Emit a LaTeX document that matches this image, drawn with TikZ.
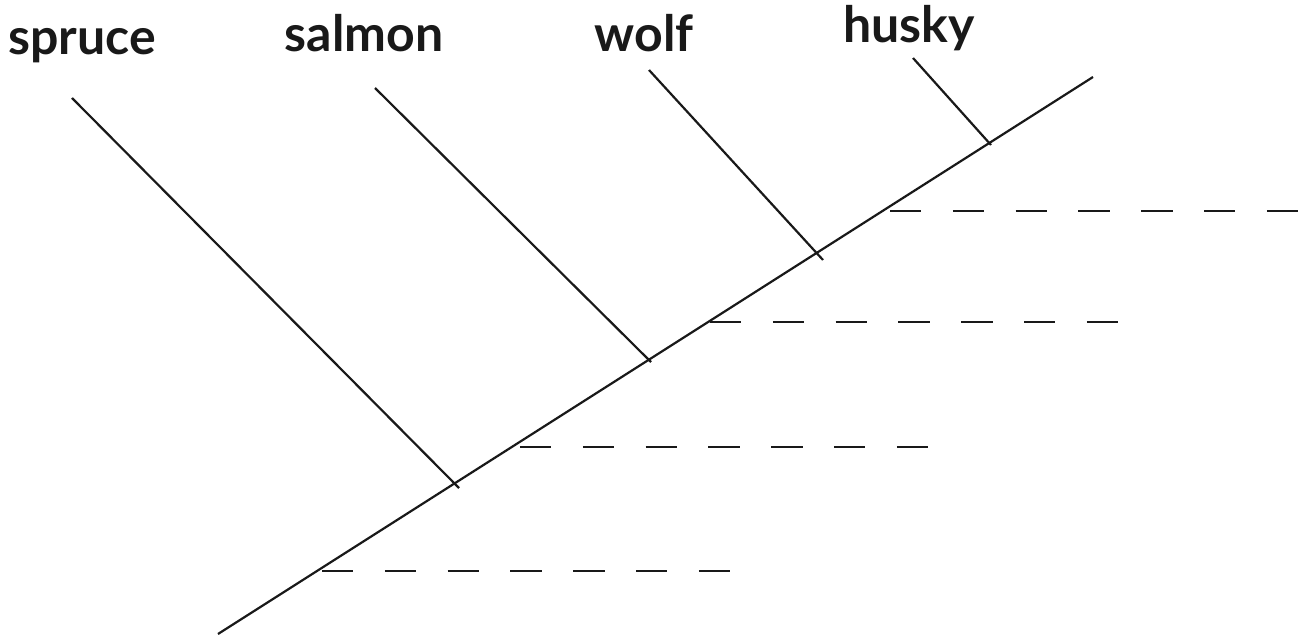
\documentclass[tikz,border=0pt]{standalone}
\usepackage{fontspec}
\setmainfont{Lato}
\begin{document}
\begin{tikzpicture}[x=1pt,y=-1pt,
  stem/.style={line width=2.2pt,color=black!90},
  dashrow/.style={line width=2.2pt,color=black!90,dash pattern=on 31.4pt off 31.4pt},
  lbl/.style={anchor=base,font=\fontsize{50}{54}\selectfont\bfseries,text=black!90,inner sep=0pt}]
\useasboundingbox (0,0) rectangle (1308,644);
% main axis
\coordinate (m0) at (218,634);
\coordinate (m1) at (1093,77);
\draw[stem] (m0) -- (m1);
% branches
\coordinate (s0) at (72,98);   \coordinate (s1) at (459,488);
\coordinate (a0) at (375,88);  \coordinate (a1) at (651,362);
\coordinate (w0) at (649,70);  \coordinate (w1) at (823,260);
\coordinate (h0) at (913,58);  \coordinate (h1) at (991,145);
\draw[stem] (s0) -- (s1);
\draw[stem] (a0) -- (a1);
\draw[stem] (w0) -- (w1);
\draw[stem] (h0) -- (h1);
% dashed levels
\coordinate (d1a) at (322,571);  \coordinate (d1b) at (730,571);
\coordinate (d2a) at (520,447);  \coordinate (d2b) at (930,447);
\coordinate (d3a) at (710,322);  \coordinate (d3b) at (1118,322);
\coordinate (d4a) at (890,211);  \coordinate (d4b) at (1298,211);
\draw[dashrow] (d1a) -- (d1b);
\draw[dashrow] (d2a) -- (d2b);
\draw[dashrow] (d3a) -- (d3b);
\draw[dashrow] (d4a) -- (d4b);
% labels
\node[lbl] (spruce) at (82,55) {spruce};
\node[lbl] (salmon) at (364,52) {salmon};
\node[lbl] (wolf) at (644,52) {wolf};
\node[lbl] (husky) at (909,43) {husky};
\end{tikzpicture}
\end{document}
